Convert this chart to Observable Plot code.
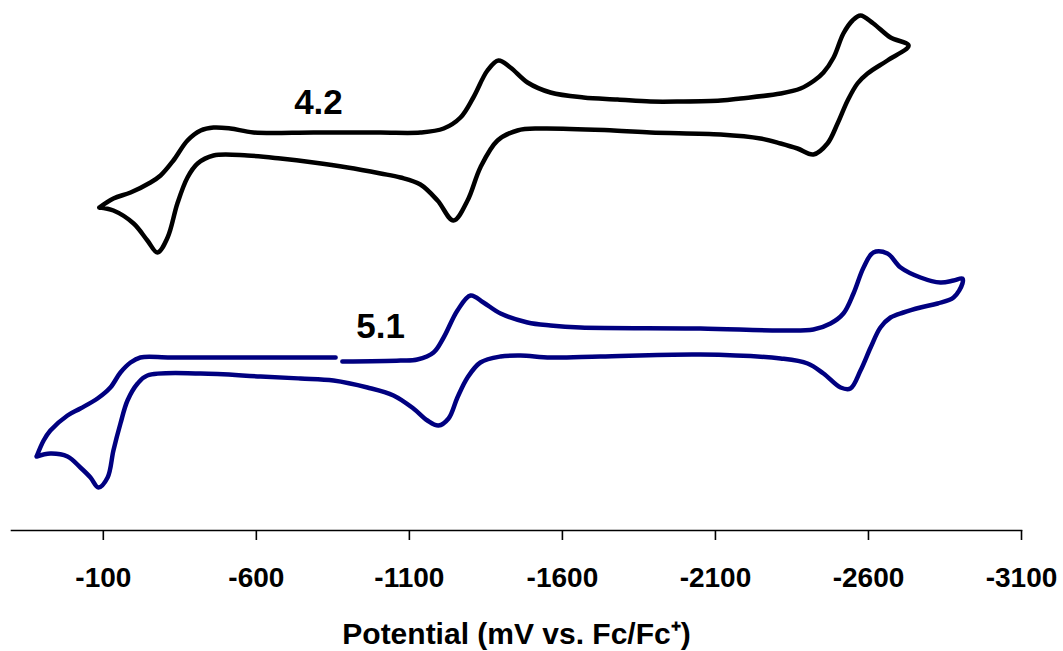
<!DOCTYPE html>
<html><head><meta charset="utf-8">
<script src="https://cdn.jsdelivr.net/npm/d3@7"></script>
<script src="https://cdn.jsdelivr.net/npm/@observablehq/plot@0.6"></script>
<style>body{margin:0;background:#fff;}</style>
</head><body><div id="chart"></div>
<script>
// Compound 4.2 cyclic voltammogram (potential in mV vs Fc/Fc+, current in arbitrary offset units)
const potential42 = [-87,-133,-189,-254,-287,-329,-375,-418,-460,-515,-591,-787,-1006,-1136,-1212,-1267,-1309,-1355,-1391,-1430,-1486,-1561,-1669,-1780,-1888,-1986,-2117,-2182,-2313,-2378,-2423,-2453,-2486,-2518,-2548,-2574,-2616,-2672,-2731,
  -2662,-2597,-2564,-2532,-2499,-2466,-2420,-2368,-2313,-2247,-2117,-1888,-1767,-1528,-1453,-1388,-1332,-1290,-1244,-1192,-1136,-1071,-1006,-898,-787,-679,-571,-460,-408,-375,-342,-310,-277,-244,-199,-133,-87];
const current42 = [32.3,33.2,33.8,34.8,35.5,37.0,39.0,40.0,40.3,40.2,39.8,39.8,39.8,39.8,40.2,41.3,43.3,46.0,47.0,46.3,44.8,43.8,43.3,43.1,42.9,42.9,43.0,43.2,43.7,44.2,45.0,45.8,47.3,49.7,51.0,51.5,50.7,49.3,48.5,
  47.0,45.7,44.7,43.0,40.7,38.7,37.6,38.2,38.7,39.2,39.6,39.8,40.0,40.2,40.0,39.0,36.3,33.0,31.0,33.0,34.6,35.3,35.7,36.3,36.8,37.2,37.5,37.5,36.7,35.3,32.7,29.3,27.8,29.0,30.7,32.0,32.3];

// Compound 5.1 cyclic voltammogram (null = missing reading, gap in trace)
const potential51 = [118,95,73,17,-25,-81,-123,-156,-189,-221,-319,-581,-859,-870,-881,-1071,-1126,-1179,-1212,-1257,-1300,-1342,-1398,-1486,-1561,-1659,-2051,-2313,-2420,-2476,-2518,-2551,-2584,-2616,-2662,-2705,-2770,-2835,-2878,-2907,
  -2907,-2878,-2826,-2770,-2714,-2672,-2639,-2607,-2574,-2541,-2509,-2453,-2401,-2313,-2051,-1724,-1561,-1463,-1398,-1332,-1290,-1257,-1228,-1195,-1159,-1113,-1048,-963,-852,-744,-614,-418,-244,-212,-179,-156,-133,-114,-84,-58,-25,17,73,118];
const current51 = [7.4,9.0,10.0,11.5,12.2,13.2,14.3,15.8,16.8,17.3,17.3,17.3,17.3,null,16.9,17.0,17.1,17.8,19.3,22.0,23.5,22.8,21.7,20.8,20.5,20.3,20.2,20.0,20.1,20.7,21.7,23.7,26.3,27.8,27.7,26.3,25.3,24.8,25.0,25.2,
  24.7,23.3,22.7,22.3,21.8,21.3,20.3,18.3,16.0,14.2,14.3,15.7,16.7,17.2,17.6,17.4,17.3,17.5,17.4,16.8,15.3,13.3,11.2,10.5,11.0,12.2,13.5,14.3,15.0,15.2,15.4,15.7,15.5,14.7,13.0,10.7,8.0,5.3,4.3,5.3,6.3,7.4,7.7,7.4];

const tickValues = [-100,-600,-1100,-1600,-2100,-2600,-3100];
const tickLabels = ["-100","-600","-1100","-1600","-2100","-2600","-3100"];
const axisTitle = "Potential (mV vs. Fc/Fc⁺)";
const seriesNames = ["4.2","5.1"];
const seriesColors = ["#000000","#000080"];
const labelPotential = [-803,-1006];
const labelCurrent = [42.8,20.4];

const data42 = potential42.map((x,i)=>({x, y: current42[i]}));
const data51 = potential51.map((x,i)=>({x, y: current51[i]}));
const labels = seriesNames.map((name,i)=>({name, x: labelPotential[i], y: labelCurrent[i]}));

const chart = Plot.plot({
  width:1063, height:651,
  marginLeft:11, marginRight:42, marginTop:0, marginBottom:121,
  style:{fontFamily:"'Liberation Sans', Arial, sans-serif", background:"#fff", color:"#000"},
  x:{domain:[200,-3100]},
  y:{domain:[0,53], axis:null},
  marks:[
    Plot.frame({anchor:"bottom", strokeWidth:1.6, stroke:"#000"}),
    Plot.axisX({ticks:tickValues, tickSize:10, tickPadding:27, strokeWidth:1.6,
      tickFormat:(d)=>tickLabels[tickValues.indexOf(d)],
      fontSize:28, fontWeight:"bold", label:null}),
    Plot.axisX({ticks:[], tickSize:0, fontSize:30, fontWeight:"bold",
      label:axisTitle, labelAnchor:"center", labelArrow:"none", labelOffset:113}),
    Plot.line(data42, {x:"x", y:"y", stroke:seriesColors[0], strokeWidth:4.5, curve:"catmull-rom", strokeLinejoin:"round"}),
    Plot.line(data51, {x:"x", y:"y", stroke:seriesColors[1], strokeWidth:4.5, curve:"catmull-rom", strokeLinejoin:"round"}),
    Plot.text(labels, {x:"x", y:"y", text:"name", fontSize:35, fontWeight:"bold", fill:"#000"})
  ]
});
document.getElementById("chart").appendChild(chart);
</script>
</body></html>
